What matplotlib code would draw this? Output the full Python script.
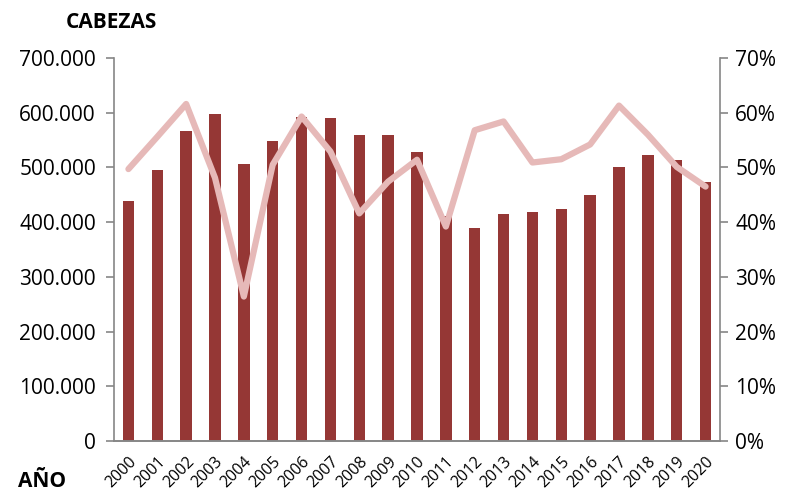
import matplotlib
matplotlib.use("Agg")
import matplotlib.pyplot as plt
from matplotlib.ticker import FuncFormatter

years = [str(y) for y in range(2000, 2021)]
cabezas = [438000, 496000, 567000, 598000, 506000, 549000, 592000, 590000, 560000, 559000,
           529000, 412000, 390000, 415000, 418000, 424000, 449000, 501000, 523000, 514000, 473000]
porcentaje = [49.7, 55.6, 61.6, 48.1, 26.4, 50.5, 59.3, 52.9, 41.6, 47.4,
              51.4, 39.2, 56.8, 58.4, 50.9, 51.5, 54.2, 61.3, 56.0, 50.1, 46.5]

plt.rcParams['font.family'] = ['Open Sans', 'DejaVu Sans']

fig = plt.figure(figsize=(7.96, 4.98), dpi=100)
ax = fig.add_axes([114/796, 1-441/498, (720-114)/796, (441-58)/498])
x = list(range(len(years)))
ax.bar(x, cabezas, width=0.4, color='#953735', zorder=2)
ax.set_xlim(-0.5, len(years)-0.5)
ax.set_ylim(0, 700000)
ax.set_yticks(range(0, 700001, 100000))
ax.yaxis.set_major_formatter(FuncFormatter(lambda v, p: '0' if v == 0 else f'{int(v):,}'.replace(',', '.')))
ax.set_xticks(x)
ax.set_xticklabels(years, rotation=45, ha='right', rotation_mode='anchor', fontsize=11.5)
ax.tick_params(axis='x', length=0, pad=9)
ax.tick_params(axis='y', labelsize=15, color='#868686', length=6, width=1.2, pad=7)

ax2 = ax.twinx()
ax2.plot(x, porcentaje, color='#E6B9B8', linewidth=4.5, zorder=3, solid_capstyle='round')
ax2.set_ylim(0, 70)
ax2.set_yticks(range(0, 71, 10))
ax2.yaxis.set_major_formatter(FuncFormatter(lambda v, p: f'{int(v)}%'))
ax2.tick_params(axis='y', labelsize=15, color='#868686', length=6, width=1.2, pad=5)

for a in (ax, ax2):
    a.spines['top'].set_visible(False)
    for s in ('left', 'right', 'bottom'):
        a.spines[s].set_color('#868686')
        a.spines[s].set_linewidth(1.2)
ax.spines['right'].set_visible(False)
ax2.spines['left'].set_visible(False)

fig.text(66/796, 1-22/498, 'CABEZAS', fontsize=15, fontweight='bold', va='center', ha='left')
fig.text(18/796, 1-481/498, 'AÑO', fontsize=15, fontweight='bold', va='center', ha='left')

fig.savefig('out.png', dpi=100)
